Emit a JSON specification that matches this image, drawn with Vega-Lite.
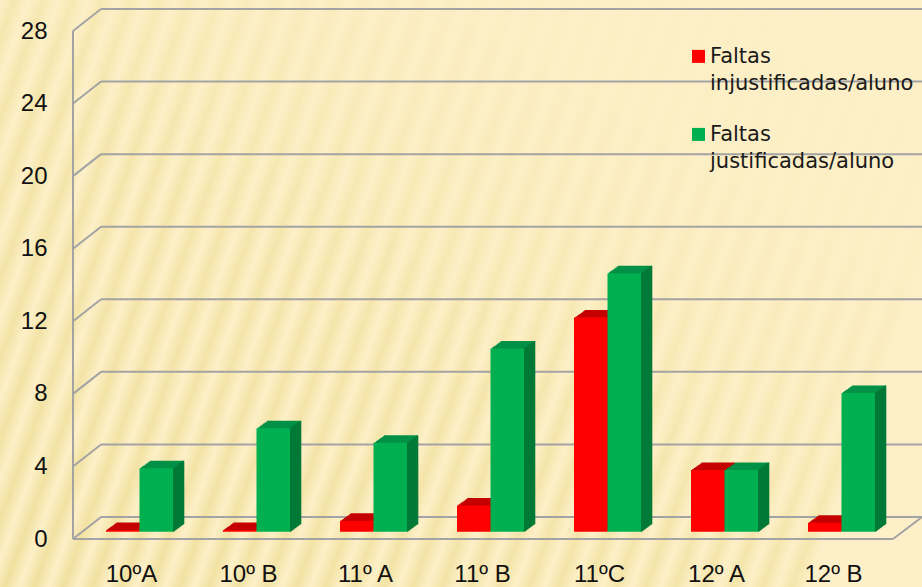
{"$schema":"https://vega.github.io/schema/vega-lite/v6.json","width":922,"height":587,"padding":0,"autosize":"none",
"background":"#fdf0c8",
"view":{"stroke":null,"fill":{"gradient":"linear","x1":0,"y1":0,"x2":1.2,"y2":0.278,"stops":[
{"offset":0,"color":"#fdf0c8"},{"offset":0.0125,"color":"#f1e09e"},{"offset":0.025,"color":"#fdf0c8"},{"offset":0.0375,"color":"#f1e09e"},{"offset":0.05,"color":"#fdf0c8"},{"offset":0.0625,"color":"#f1e09e"},{"offset":0.075,"color":"#fdf0c8"},{"offset":0.0875,"color":"#f1e09e"},{"offset":0.1,"color":"#fdf0c8"},{"offset":0.1125,"color":"#f1e09e"},{"offset":0.125,"color":"#fdf0c8"},{"offset":0.1375,"color":"#f1e09e"},{"offset":0.15,"color":"#fdf0c8"},{"offset":0.1625,"color":"#f1e09e"},{"offset":0.175,"color":"#fdf0c8"},{"offset":0.1875,"color":"#f1e09e"},{"offset":0.2,"color":"#fdf0c8"},{"offset":0.2125,"color":"#f1e09e"},{"offset":0.225,"color":"#fdf0c8"},{"offset":0.2375,"color":"#f1e09e"},{"offset":0.25,"color":"#fdf0c8"},{"offset":0.2625,"color":"#f1e09e"},{"offset":0.275,"color":"#fdf0c8"},{"offset":0.2875,"color":"#f1e09e"},{"offset":0.3,"color":"#fdf0c8"},{"offset":0.3125,"color":"#f1e09e"},{"offset":0.325,"color":"#fdf0c8"},{"offset":0.3375,"color":"#f1e09e"},{"offset":0.35,"color":"#fdf0c8"},{"offset":0.3625,"color":"#f1e09e"},{"offset":0.375,"color":"#fdf0c8"},{"offset":0.3875,"color":"#f1e09e"},{"offset":0.4,"color":"#fdf0c8"},{"offset":0.4125,"color":"#f1e09e"},{"offset":0.425,"color":"#fdf0c8"},{"offset":0.4375,"color":"#f1e09e"},{"offset":0.45,"color":"#fdf0c8"},{"offset":0.4625,"color":"#f1e09e"},{"offset":0.475,"color":"#fdf0c8"},{"offset":0.4875,"color":"#f1e09e"},{"offset":0.5,"color":"#fdf0c8"},{"offset":0.5125,"color":"#f1e09e"},{"offset":0.525,"color":"#fdf0c8"},{"offset":0.5375,"color":"#f1e09e"},{"offset":0.55,"color":"#fdf0c8"},{"offset":0.5625,"color":"#f1e09e"},{"offset":0.575,"color":"#fdf0c8"},{"offset":0.5875,"color":"#f1e09e"},{"offset":0.6,"color":"#fdf0c8"},{"offset":0.6125,"color":"#f1e09e"},{"offset":0.625,"color":"#fdf0c8"},{"offset":0.6375,"color":"#f1e09e"},{"offset":0.65,"color":"#fdf0c8"},{"offset":0.6625,"color":"#f1e09e"},{"offset":0.675,"color":"#fdf0c8"},{"offset":0.6875,"color":"#f1e09e"},{"offset":0.7,"color":"#fdf0c8"},{"offset":0.7125,"color":"#f1e09e"},{"offset":0.725,"color":"#fdf0c8"},{"offset":0.7375,"color":"#f1e09e"},{"offset":0.75,"color":"#fdf0c8"},{"offset":0.7625,"color":"#f1e09e"},{"offset":0.775,"color":"#fdf0c8"},{"offset":0.7875,"color":"#f1e09e"},{"offset":0.8,"color":"#fdf0c8"},{"offset":0.8125,"color":"#f1e09e"},{"offset":0.825,"color":"#fdf0c8"},{"offset":0.8375,"color":"#f1e09e"},{"offset":0.85,"color":"#fdf0c8"},{"offset":0.8625,"color":"#f1e09e"},{"offset":0.875,"color":"#fdf0c8"},{"offset":1,"color":"#fdf0c8"}]}},
"datasets":{
"inj":[{"turma":"10ºA","valor":0.1},{"turma":"10º B","valor":0.1},{"turma":"11º A","valor":0.6},{"turma":"11º B","valor":1.45},{"turma":"11ºC","valor":11.8},{"turma":"12º A","valor":3.4},{"turma":"12º B","valor":0.5}],
"jus":[{"turma":"10ºA","valor":3.5},{"turma":"10º B","valor":5.7},{"turma":"11º A","valor":4.9},{"turma":"11º B","valor":10.1},{"turma":"11ºC","valor":14.25},{"turma":"12º A","valor":3.4},{"turma":"12º B","valor":7.65}],
"grelha":[{"t":0},{"t":4},{"t":8},{"t":12},{"t":16},{"t":20},{"t":24},{"t":28}],
"um":[{"n":1}]},
"resolve":{"scale":{"x":"independent","y":"independent"}},
"layer":[
{"layer":[
{"data":{"name":"um"},"mark":{"type":"rect","color":{"gradient":"linear","x1":0,"y1":1,"x2":1,"y2":0,"stops":[{"offset":0,"color":"rgba(253,240,200,0)"},{"offset":0.45,"color":"rgba(253,240,200,0.35)"},{"offset":0.75,"color":"rgba(253,240,200,0.85)"},{"offset":1,"color":"rgba(253,240,200,1)"}]}},"encoding":{"x":{"datum":-73,"type":"quantitative","scale":{"domain":[0,819],"range":[73,892]},"axis":null},"x2":{"datum":849},"y":{"datum":-2.65,"type":"quantitative","scale":{"domain":[0,28],"range":[539,31]},"axis":null},"y2":{"datum":29.71}}},
{"data":{"name":"grelha"},"mark":{"type":"rule","color":"#a3a3a3","strokeWidth":2,"yOffset":-22},"encoding":{"x":{"datum":28,"type":"quantitative","scale":{"domain":[0,819],"range":[73,892]},"axis":null},"x2":{"datum":849},"y":{"field":"t","type":"quantitative","scale":{"domain":[0,28],"range":[539,31]},"axis":null}}},
{"data":{"name":"grelha"},"mark":{"type":"rule","color":"#a3a3a3","strokeWidth":2,"y2Offset":-22},"encoding":{"x":{"datum":0,"type":"quantitative","scale":{"domain":[0,819],"range":[73,892]},"axis":null},"x2":{"datum":28},"y":{"field":"t","type":"quantitative","scale":{"domain":[0,28],"range":[539,31]},"axis":null},"y2":{"field":"t"}}},
{"data":{"name":"um"},"mark":{"type":"rule","color":"#a3a3a3","strokeWidth":2},"encoding":{"x":{"datum":0,"type":"quantitative","scale":{"domain":[0,819],"range":[73,892]},"axis":null},"y":{"datum":0,"type":"quantitative","scale":{"domain":[0,28],"range":[539,31]},"axis":null},"y2":{"datum":28}}},
{"data":{"name":"um"},"mark":{"type":"rule","color":"#a3a3a3","strokeWidth":2},"encoding":{"x":{"datum":0,"type":"quantitative","scale":{"domain":[0,819],"range":[73,892]},"axis":null},"x2":{"datum":820},"y":{"datum":0,"type":"quantitative","scale":{"domain":[0,28],"range":[539,31]},"axis":null}}},
{"data":{"name":"um"},"mark":{"type":"rule","color":"#a3a3a3","strokeWidth":2,"y2Offset":-22},"encoding":{"x":{"datum":820,"type":"quantitative","scale":{"domain":[0,819],"range":[73,892]},"axis":null},"x2":{"datum":849},"y":{"datum":0,"type":"quantitative","scale":{"domain":[0,28],"range":[539,31]},"axis":null},"y2":{"datum":0}}},
{"data":{"values":[{"rotulo":"Faltas\ninjustificadas/aluno"}]},"mark":{"type":"text","lineBreak":"\n","lineHeight":27,"align":"left","baseline":"top","font":"DejaVu Sans","fontSize":21,"color":"#1a1a1a"},"encoding":{"x":{"datum":637,"type":"quantitative","scale":{"domain":[0,819],"range":[73,892]},"axis":null},"y":{"datum":27.18,"type":"quantitative","scale":{"domain":[0,28],"range":[539,31]},"axis":null},"text":{"field":"rotulo"}}},
{"data":{"values":[{"rotulo":"Faltas\njustificadas/aluno"}]},"mark":{"type":"text","lineBreak":"\n","lineHeight":27,"align":"left","baseline":"top","font":"DejaVu Sans","fontSize":21,"color":"#1a1a1a"},"encoding":{"x":{"datum":637,"type":"quantitative","scale":{"domain":[0,819],"range":[73,892]},"axis":null},"y":{"datum":22.88,"type":"quantitative","scale":{"domain":[0,28],"range":[539,31]},"axis":null},"text":{"field":"rotulo"}}},
{"data":{"name":"um"},"mark":{"type":"point","shape":"square","filled":true,"size":169,"color":"#ff0000","opacity":1},"encoding":{"x":{"datum":625.5,"type":"quantitative","scale":{"domain":[0,819],"range":[73,892]},"axis":null},"y":{"datum":26.6,"type":"quantitative","scale":{"domain":[0,28],"range":[539,31]},"axis":null}}},
{"data":{"name":"um"},"mark":{"type":"point","shape":"square","filled":true,"size":169,"color":"#00b050","opacity":1},"encoding":{"x":{"datum":625.5,"type":"quantitative","scale":{"domain":[0,819],"range":[73,892]},"axis":null},"y":{"datum":22.3,"type":"quantitative","scale":{"domain":[0,28],"range":[539,31]},"axis":null}}}
]},
{"encoding":{"x":{"field":"turma","type":"nominal","sort":null,"title":null,"scale":{"domain":["10ºA","10º B","11º A","11º B","11ºC","12º A","12º B"],"range":[73,892],"paddingInner":0,"paddingOuter":0},"axis":{"orient":"bottom","zindex":1,"offset":-32,"domain":false,"ticks":false,"labelAngle":0,"labelPadding":26,"labelFont":"Liberation Sans","labelFontSize":24,"labelColor":"#111111","labelBaseline":"alphabetic"}},"y":{"field":"valor","type":"quantitative","title":null,"scale":{"domain":[0,28],"range":[539,31]},"axis":{"orient":"left","zindex":1,"offset":-47,"values":[0,4,8,12,16,20,24,28],"domain":false,"ticks":false,"grid":false,"labelPadding":0,"labelFont":"Liberation Sans","labelFontSize":24,"labelColor":"#111111"}}},
"layer":[
{"data":{"name":"inj"},"mark":{"type":"bar","size":33.5,"color":"#c40000","xOffset":-7.45,"yOffset":-8.2,"y2Offset":-8.2}},
{"data":{"name":"inj"},"mark":{"type":"bar","size":33.5,"color":"#c40000","xOffset":-6.15,"yOffset":-9.2,"y2Offset":-9.2}},
{"data":{"name":"inj"},"mark":{"type":"bar","size":33.5,"color":"#c40000","xOffset":-4.85,"yOffset":-10.1,"y2Offset":-10.1}},
{"data":{"name":"inj"},"mark":{"type":"bar","size":33.5,"color":"#c40000","xOffset":-3.45,"yOffset":-11,"y2Offset":-11}},
{"data":{"name":"inj"},"mark":{"type":"bar","size":33.5,"color":"#c40000","xOffset":-2.15,"yOffset":-12,"y2Offset":-12}},
{"data":{"name":"inj"},"mark":{"type":"bar","size":33.5,"color":"#c40000","xOffset":-0.85,"yOffset":-12.9,"y2Offset":-12.9}},
{"data":{"name":"inj"},"mark":{"type":"bar","size":33.5,"color":"#c40000","xOffset":0.45,"yOffset":-13.9,"y2Offset":-13.9}},
{"data":{"name":"inj"},"mark":{"type":"bar","size":33.5,"color":"#c40000","xOffset":1.75,"yOffset":-14.8,"y2Offset":-14.8}},
{"data":{"name":"jus"},"mark":{"type":"bar","size":33.5,"color":"#009046","xOffset":26.05,"yOffset":-8.2,"y2Offset":-8.2}},
{"data":{"name":"jus"},"mark":{"type":"bar","size":33.5,"color":"#009046","xOffset":27.35,"yOffset":-9.2,"y2Offset":-9.2}},
{"data":{"name":"jus"},"mark":{"type":"bar","size":33.5,"color":"#009046","xOffset":28.65,"yOffset":-10.1,"y2Offset":-10.1}},
{"data":{"name":"jus"},"mark":{"type":"bar","size":33.5,"color":"#009046","xOffset":30.05,"yOffset":-11,"y2Offset":-11}},
{"data":{"name":"jus"},"mark":{"type":"bar","size":33.5,"color":"#009046","xOffset":31.35,"yOffset":-12,"y2Offset":-12}},
{"data":{"name":"jus"},"mark":{"type":"bar","size":33.5,"color":"#009046","xOffset":32.65,"yOffset":-12.9,"y2Offset":-12.9}},
{"data":{"name":"jus"},"mark":{"type":"bar","size":33.5,"color":"#009046","xOffset":33.95,"yOffset":-13.9,"y2Offset":-13.9}},
{"data":{"name":"jus"},"mark":{"type":"bar","size":33.5,"color":"#009046","xOffset":35.25,"yOffset":-14.8,"y2Offset":-14.8}},
{"data":{"name":"jus"},"mark":{"type":"bar","size":1.6,"color":"#007a37","xOffset":42,"yOffset":-7.3,"y2Offset":-7.3}},
{"data":{"name":"jus"},"mark":{"type":"bar","size":1.6,"color":"#007a37","xOffset":43,"yOffset":-8.05,"y2Offset":-8.05}},
{"data":{"name":"jus"},"mark":{"type":"bar","size":1.6,"color":"#007a37","xOffset":44,"yOffset":-8.8,"y2Offset":-8.8}},
{"data":{"name":"jus"},"mark":{"type":"bar","size":1.6,"color":"#007a37","xOffset":45,"yOffset":-9.55,"y2Offset":-9.55}},
{"data":{"name":"jus"},"mark":{"type":"bar","size":1.6,"color":"#007a37","xOffset":46,"yOffset":-10.3,"y2Offset":-10.3}},
{"data":{"name":"jus"},"mark":{"type":"bar","size":1.6,"color":"#007a37","xOffset":47,"yOffset":-11.05,"y2Offset":-11.05}},
{"data":{"name":"jus"},"mark":{"type":"bar","size":1.6,"color":"#007a37","xOffset":48,"yOffset":-11.8,"y2Offset":-11.8}},
{"data":{"name":"jus"},"mark":{"type":"bar","size":1.6,"color":"#007a37","xOffset":49,"yOffset":-12.55,"y2Offset":-12.55}},
{"data":{"name":"jus"},"mark":{"type":"bar","size":1.6,"color":"#007a37","xOffset":50,"yOffset":-13.3,"y2Offset":-13.3}},
{"data":{"name":"jus"},"mark":{"type":"bar","size":1.6,"color":"#007a37","xOffset":51,"yOffset":-14.05,"y2Offset":-14.05}},
{"data":{"name":"jus"},"mark":{"type":"bar","size":1.6,"color":"#007a37","xOffset":52,"yOffset":-14.8,"y2Offset":-14.8}},
{"data":{"name":"inj"},"mark":{"type":"bar","size":33.5,"color":"#ff0000","xOffset":-8.75,"yOffset":-7.3,"y2Offset":-7.3}},
{"data":{"name":"jus"},"mark":{"type":"bar","size":33.5,"color":"#00b050","xOffset":24.75,"yOffset":-7.3,"y2Offset":-7.3}}
]}
]}
